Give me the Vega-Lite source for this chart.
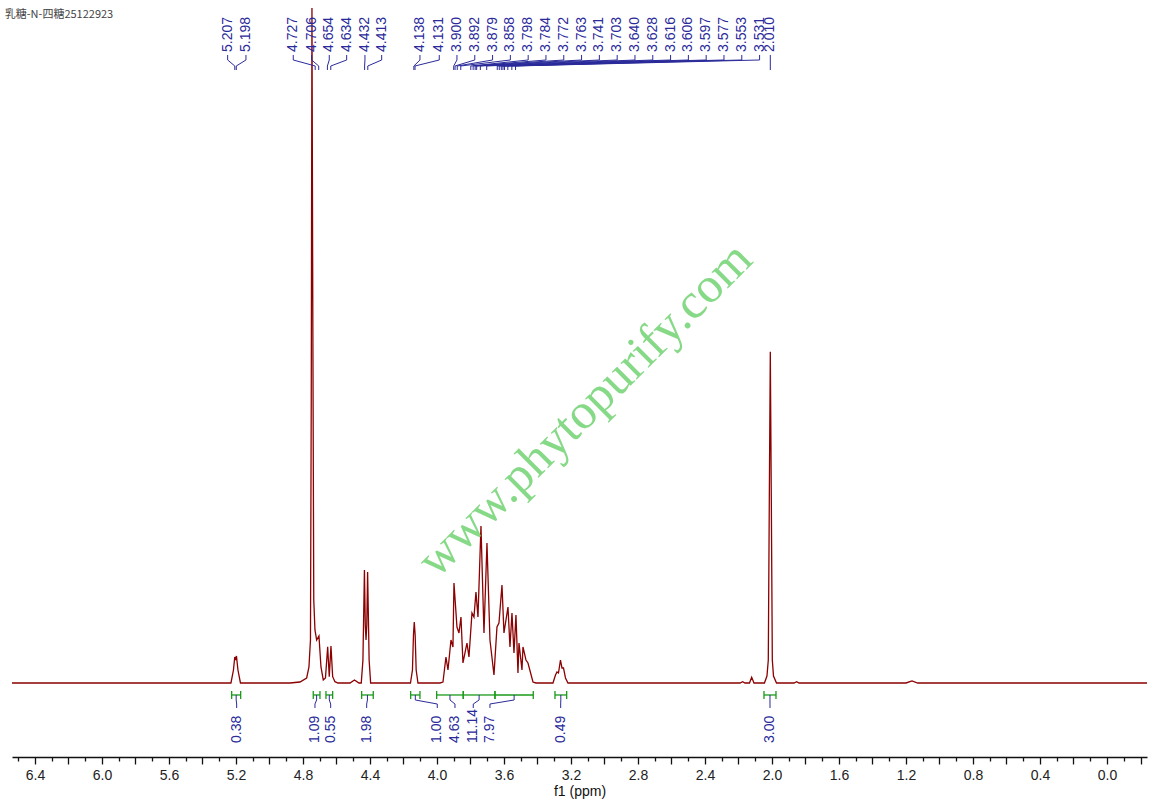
{
 "$schema": "https://vega.github.io/schema/vega-lite/v6.json",
 "width": 1135,
 "height": 757,
 "autosize": {"type": "none"},
 "padding": {"left": 12, "right": 7, "top": 0, "bottom": 51},
 "background": "white",
 "config": {"view": {"stroke": null}, "axis": {"grid": false}},
 "resolve": {"axis": {"x": "independent"}},
 "datasets": {
  "spectrum": [
   {"ppm": 6.537, "int": 0}, {"ppm": 5.2299, "int": 0}, {"ppm": 5.2149, "int": 3.92}, {"ppm": 5.2072, "int": 7.85}, {"ppm": 5.2024, "int": 6.94}, {"ppm": 5.197, "int": 8.15}, {"ppm": 5.1881, "int": 3.92}, {"ppm": 5.1731, "int": 0},
   {"ppm": 4.8776, "int": 0}, {"ppm": 4.8179, "int": 0.3}, {"ppm": 4.7779, "int": 1.51}, {"ppm": 4.7642, "int": 4.83}, {"ppm": 4.7552, "int": 12.98}, {"ppm": 4.7505, "int": 85.42}, {"ppm": 4.7463, "int": 203.74}, {"ppm": 4.7415, "int": 115.6}, {"ppm": 4.7355, "int": 25.05}, {"ppm": 4.7284, "int": 16.0}, {"ppm": 4.7182, "int": 12.98}, {"ppm": 4.7045, "int": 14.19}, {"ppm": 4.6925, "int": 4.83}, {"ppm": 4.6788, "int": 0.91}, {"ppm": 4.6657, "int": 1.51}, {"ppm": 4.6525, "int": 10.96}, {"ppm": 4.643, "int": 1.9}, {"ppm": 4.6328, "int": 11.17}, {"ppm": 4.6227, "int": 1.9}, {"ppm": 4.609, "int": 0.39}, {"ppm": 4.591, "int": 0},
   {"ppm": 4.5194, "int": 0}, {"ppm": 4.4925, "int": 0.9}, {"ppm": 4.4657, "int": 0},
   {"ppm": 4.452, "int": 0}, {"ppm": 4.442, "int": 6.9}, {"ppm": 4.433, "int": 34.1}, {"ppm": 4.428, "int": 17.5}, {"ppm": 4.4235, "int": 13}, {"ppm": 4.419, "int": 17.5}, {"ppm": 4.414, "int": 33.5}, {"ppm": 4.405, "int": 6.9}, {"ppm": 4.396, "int": 0},
   {"ppm": 4.1582, "int": 0}, {"ppm": 4.1463, "int": 3.92}, {"ppm": 4.1403, "int": 14.49}, {"ppm": 4.1355, "int": 18.41}, {"ppm": 4.1302, "int": 14.49}, {"ppm": 4.1242, "int": 3.92}, {"ppm": 4.1134, "int": 0},
   {"ppm": 3.9821, "int": 0}, {"ppm": 3.9642, "int": 0.3}, {"ppm": 3.9463, "int": 7.85}, {"ppm": 3.9343, "int": 3.92}, {"ppm": 3.9164, "int": 12.98}, {"ppm": 3.9045, "int": 10.87}, {"ppm": 3.8985, "int": 30.18}, {"ppm": 3.8806, "int": 16.9}, {"ppm": 3.8687, "int": 15.09}, {"ppm": 3.8567, "int": 19.92}, {"ppm": 3.8448, "int": 6.04}, {"ppm": 3.8328, "int": 9.06}, {"ppm": 3.8209, "int": 12.07}, {"ppm": 3.809, "int": 7.85}, {"ppm": 3.791, "int": 21.13}, {"ppm": 3.7791, "int": 19.92}, {"ppm": 3.7672, "int": 27.47}, {"ppm": 3.7552, "int": 19.92}, {"ppm": 3.7373, "int": 47.39}, {"ppm": 3.7194, "int": 15.09}, {"ppm": 3.7015, "int": 42.26}, {"ppm": 3.6836, "int": 12.98}, {"ppm": 3.6597, "int": 2.41}, {"ppm": 3.6418, "int": 16.9}, {"ppm": 3.6299, "int": 18.11}, {"ppm": 3.6119, "int": 29.58}, {"ppm": 3.6, "int": 15.09}, {"ppm": 3.5881, "int": 19.02}, {"ppm": 3.5761, "int": 22.94}, {"ppm": 3.5642, "int": 10.87}, {"ppm": 3.5522, "int": 21.13}, {"ppm": 3.5403, "int": 9.06}, {"ppm": 3.5284, "int": 20.53}, {"ppm": 3.5164, "int": 3.02}, {"ppm": 3.5104, "int": 12.07}, {"ppm": 3.4925, "int": 3.92}, {"ppm": 3.4866, "int": 10.87}, {"ppm": 3.4687, "int": 6.94}, {"ppm": 3.4567, "int": 6.04}, {"ppm": 3.4269, "int": 0.3}, {"ppm": 3.409, "int": 0},
   {"ppm": 3.3075, "int": 0}, {"ppm": 3.2925, "int": 2.41}, {"ppm": 3.2836, "int": 3.32}, {"ppm": 3.2746, "int": 3.02}, {"ppm": 3.2627, "int": 6.94}, {"ppm": 3.2537, "int": 4.53}, {"ppm": 3.2448, "int": 4.53}, {"ppm": 3.2328, "int": 1.51}, {"ppm": 3.2179, "int": 0},
   {"ppm": 2.191, "int": 0}, {"ppm": 2.1749, "int": 0.39}, {"ppm": 2.1612, "int": 0}, {"ppm": 2.1343, "int": 0}, {"ppm": 2.1212, "int": 1.72}, {"ppm": 2.1075, "int": 0},
   {"ppm": 2.045, "int": 0}, {"ppm": 2.03, "int": 2.11}, {"ppm": 2.022, "int": 6.94}, {"ppm": 2.016, "int": 55.2}, {"ppm": 2.01, "int": 100}, {"ppm": 2.004, "int": 55.2}, {"ppm": 1.998, "int": 6.94}, {"ppm": 1.991, "int": 2.11}, {"ppm": 1.973, "int": 0},
   {"ppm": 1.8687, "int": 0}, {"ppm": 1.8525, "int": 0.39}, {"ppm": 1.8388, "int": 0},
   {"ppm": 1.2, "int": 0}, {"ppm": 1.164, "int": 0.6}, {"ppm": 1.13, "int": 0},
   {"ppm": -0.2388, "int": 0}
  ],
  "peaks": [
   {"shift": 5.207, "pos": 5.2496}, {"shift": 5.198, "pos": 5.1403},
   {"shift": 4.727, "pos": 4.8579}, {"shift": 4.706, "pos": 4.7481},
   {"shift": 4.654, "pos": 4.643}, {"shift": 4.634, "pos": 4.5391},
   {"shift": 4.432, "pos": 4.4299}, {"shift": 4.413, "pos": 4.3301},
   {"shift": 4.138, "pos": 4.1015}, {"shift": 4.131, "pos": 3.9863},
   {"shift": 3.9, "pos": 3.8806}, {"shift": 3.892, "pos": 3.7743},
   {"shift": 3.879, "pos": 3.6681}, {"shift": 3.858, "pos": 3.5618},
   {"shift": 3.798, "pos": 3.4555}, {"shift": 3.784, "pos": 3.3493},
   {"shift": 3.772, "pos": 3.243}, {"shift": 3.763, "pos": 3.1367},
   {"shift": 3.741, "pos": 3.0305}, {"shift": 3.703, "pos": 2.9242},
   {"shift": 3.64, "pos": 2.8179}, {"shift": 3.628, "pos": 2.7116},
   {"shift": 3.616, "pos": 2.6054}, {"shift": 3.606, "pos": 2.4991},
   {"shift": 3.597, "pos": 2.3928}, {"shift": 3.577, "pos": 2.2866},
   {"shift": 3.553, "pos": 2.1803}, {"shift": 3.531, "pos": 2.074},
   {"shift": 2.01, "pos": 2.01}
  ],
  "integrals": [
   {"value": 0.38, "lo": 5.1719, "hi": 5.2257, "mid": 5.1988, "pos": 5.1958},
   {"value": 1.09, "lo": 4.6985, "hi": 4.7385, "mid": 4.7185, "pos": 4.7284},
   {"value": 0.55, "lo": 4.6227, "hi": 4.6627, "mid": 4.6427, "pos": 4.6346},
   {"value": 1.98, "lo": 4.3803, "hi": 4.4496, "mid": 4.415, "pos": 4.4197},
   {"value": 1.0, "lo": 4.1015, "hi": 4.157, "mid": 4.1293, "pos": 3.9982},
   {"value": 4.63, "lo": 3.843, "hi": 4.0018, "mid": 3.9224, "pos": 3.8925},
   {"value": 11.14, "lo": 3.6537, "hi": 3.843, "mid": 3.7484, "pos": 3.7833},
   {"value": 7.97, "lo": 3.4251, "hi": 3.6537, "mid": 3.5394, "pos": 3.6836},
   {"value": 0.49, "lo": 3.2257, "hi": 3.2955, "mid": 3.2606, "pos": 3.2615},
   {"value": 3.0, "lo": 1.9761, "hi": 2.0478, "mid": 2.012, "pos": 2.0119}
  ]
 },
 "layer": [
  {
   "data": {"name": "spectrum"},
   "mark": {"type": "line", "color": "#8b0000", "strokeWidth": 1.3},
   "encoding": {
    "x": {
     "field": "ppm", "type": "quantitative",
     "scale": {"domain": [-0.2388, 6.537], "reverse": true, "nice": false, "zero": false},
     "axis": {
      "orient": "bottom",
      "title": "f1 (ppm)",
      "values": [6.4, 6.2, 6.0, 5.8, 5.6, 5.4, 5.2, 5.0, 4.8, 4.6, 4.4, 4.2, 4.0, 3.8, 3.6, 3.4, 3.2, 3.0, 2.8, 2.6, 2.4, 2.2, 2.0, 1.8, 1.6, 1.4, 1.2, 1.0, 0.8, 0.6, 0.4, 0.2, 0.0, -0.2],
      "labelExpr": "abs(round(datum.value*10)) % 4 == 0 ? format(datum.value, '.1f') : ''",
      "labelOverlap": false,
      "labelFlush": false,
      "tickSize": 7,
      "tickColor": "#111",
      "tickWidth": 1.3,
      "domainColor": "#111",
      "domainWidth": 1.3,
      "labelFont": "Liberation Sans",
      "labelFontSize": 14,
      "labelColor": "#222",
      "labelPadding": 4,
      "titleFont": "Liberation Sans",
      "titleFontSize": 14,
      "titleFontWeight": "normal",
      "titleColor": "#111",
      "titlePadding": 2
     }
    },
    "y": {"field": "int", "type": "quantitative", "scale": {"domain": [-22.34, 206.16], "nice": false, "zero": false}, "axis": null}
   }
  },
  {
   "data": {"name": "peaks"},
   "mark": {"type": "text", "angle": 270, "align": "left", "baseline": "middle", "font": "Liberation Sans", "fontSize": 14, "color": "#2a2a9a"},
   "encoding": {
    "x": {"field": "pos", "type": "quantitative", "axis": null},
    "y": {"datum": 190.46, "type": "quantitative", "axis": null},
    "text": {"field": "shift", "type": "quantitative", "format": ".3f"}
   }
  },
  {
   "data": {"name": "peaks"},
   "mark": {"type": "rule", "color": "#2a2a9a", "strokeWidth": 1},
   "encoding": {
    "x": {
     "field": "pos", "type": "quantitative",
     "axis": {
      "orient": "bottom",
      "title": null,
      "values": [6.5, 6.3, 6.1, 5.9, 5.7, 5.5, 5.3, 5.1, 4.9, 4.7, 4.5, 4.3, 4.1, 3.9, 3.7, 3.5, 3.3, 3.1, 2.9, 2.7, 2.5, 2.3, 2.1, 1.9, 1.7, 1.5, 1.3, 1.1, 0.9, 0.7, 0.5, 0.3, 0.1, -0.1],
      "labels": false,
      "domain": false,
      "tickSize": 4,
      "tickColor": "#111",
      "tickWidth": 1.3
     }
    },
    "y": {"datum": 189.56, "type": "quantitative", "axis": null},
    "y2": {"datum": 188.05}
   }
  },
  {
   "data": {"name": "peaks"},
   "mark": {"type": "rule", "color": "#2a2a9a", "strokeWidth": 1},
   "encoding": {
    "x": {"field": "pos", "type": "quantitative", "axis": null},
    "x2": {"field": "shift"},
    "y": {"datum": 188.05, "type": "quantitative", "axis": null},
    "y2": {"datum": 186.24}
   }
  },
  {
   "data": {"name": "peaks"},
   "mark": {"type": "rule", "color": "#2a2a9a", "strokeWidth": 1},
   "encoding": {
    "x": {"field": "shift", "type": "quantitative", "axis": null},
    "y": {"datum": 186.24, "type": "quantitative", "axis": null},
    "y2": {"datum": 185.03}
   }
  },
  {
   "data": {"name": "integrals"},
   "mark": {"type": "rule", "color": "#1a9a1a", "strokeWidth": 1.3},
   "encoding": {
    "x": {"field": "lo", "type": "quantitative", "axis": null},
    "x2": {"field": "hi"},
    "y": {"datum": -3.62, "type": "quantitative", "axis": null}
   }
  },
  {
   "data": {"name": "integrals"},
   "mark": {"type": "rule", "color": "#1a9a1a", "strokeWidth": 1.3},
   "encoding": {
    "x": {"field": "lo", "type": "quantitative", "axis": null},
    "y": {"datum": -2.41, "type": "quantitative", "axis": null},
    "y2": {"datum": -4.83}
   }
  },
  {
   "data": {"name": "integrals"},
   "mark": {"type": "rule", "color": "#1a9a1a", "strokeWidth": 1.3},
   "encoding": {
    "x": {"field": "hi", "type": "quantitative", "axis": null},
    "y": {"datum": -2.41, "type": "quantitative", "axis": null},
    "y2": {"datum": -4.83}
   }
  },
  {
   "data": {"name": "integrals"},
   "mark": {"type": "rule", "color": "#2a2a9a", "strokeWidth": 1},
   "encoding": {
    "x": {"field": "mid", "type": "quantitative", "axis": null},
    "y": {"datum": -3.62, "type": "quantitative", "axis": null},
    "y2": {"datum": -5.13}
   }
  },
  {
   "data": {"name": "integrals"},
   "mark": {"type": "rule", "color": "#2a2a9a", "strokeWidth": 1},
   "encoding": {
    "x": {"field": "mid", "type": "quantitative", "axis": null},
    "x2": {"field": "pos"},
    "y": {"datum": -5.13, "type": "quantitative", "axis": null},
    "y2": {"datum": -6.34}
   }
  },
  {
   "data": {"name": "integrals"},
   "mark": {"type": "rule", "color": "#2a2a9a", "strokeWidth": 1},
   "encoding": {
    "x": {"field": "pos", "type": "quantitative", "axis": null},
    "y": {"datum": -6.34, "type": "quantitative", "axis": null},
    "y2": {"datum": -7.55}
   }
  },
  {
   "data": {"name": "integrals"},
   "mark": {"type": "text", "angle": 270, "align": "left", "baseline": "middle", "font": "Liberation Sans", "fontSize": 14, "color": "#2a2a9a"},
   "encoding": {
    "x": {"field": "pos", "type": "quantitative", "axis": null},
    "y": {"datum": -18.11, "type": "quantitative", "axis": null},
    "text": {"field": "value", "type": "quantitative", "format": ".2f"}
   }
  },
  {
   "data": {"values": [{"label": "www.phytopurify.com"}]},
   "mark": {"type": "text", "angle": 315, "align": "center", "baseline": "middle", "font": "Liberation Serif", "fontSize": 50, "color": "#80d880", "opacity": 0.95},
   "encoding": {
    "x": {"datum": 3.116, "type": "quantitative", "axis": null},
    "y": {"datum": 82.4, "type": "quantitative", "axis": null},
    "text": {"field": "label"}
   }
  },
  {
   "data": {"values": [{"label": "乳糖-N-四糖25122923"}]},
   "mark": {"type": "text", "align": "left", "baseline": "middle", "font": "Noto Sans CJK SC", "fontSize": 11, "color": "#444"},
   "encoding": {
    "x": {"datum": 6.58, "type": "quantitative", "axis": null},
    "y": {"datum": 201.6, "type": "quantitative", "axis": null},
    "text": {"field": "label"}
   }
  }
 ]
}
